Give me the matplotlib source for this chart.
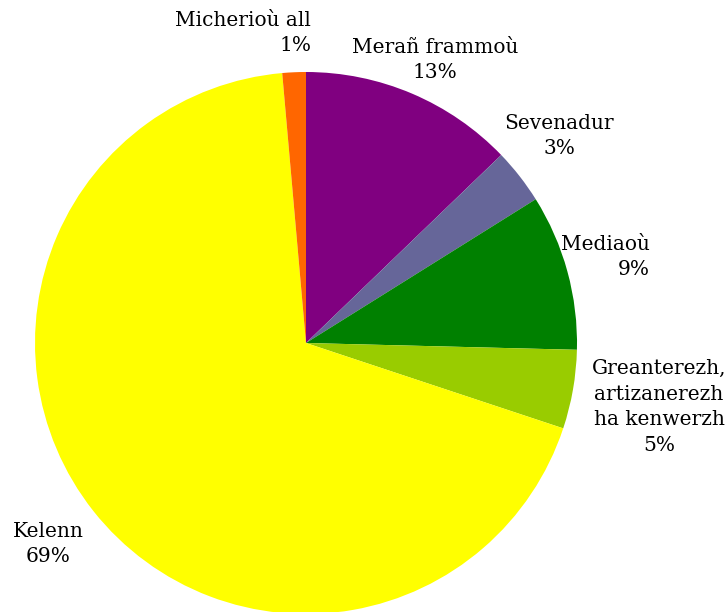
import matplotlib.pyplot as plt

# Sector shares (%), clockwise from 12 o'clock
labels = ['Merañ frammoù', 'Sevenadur', 'Mediaoù',
          'Greanterezh,\nartizanerezh\nha kenwerzh', 'Kelenn', 'Micherioù all']
values = [12.8, 3.3, 9.3, 4.7, 68.5, 1.4]
shown_pct = ['13%', '3%', '9%', '5%', '69%', '1%']
colors = ['#800080', '#666699', '#008000', '#99CC00', '#FFFF00', '#FF6600']

W, H = 728, 612
fig = plt.figure(figsize=(W / 100, H / 100), dpi=100)

cx, cy, r = 306, 343, 271
ax = fig.add_axes([(cx - r) / W, (H - cy - r) / H, 2 * r / W, 2 * r / H])
ax.pie(values, colors=colors, startangle=90, counterclock=False, radius=1,
       wedgeprops=dict(linewidth=0))
ax.set_xlim(-1, 1)
ax.set_ylim(-1, 1)
ax.set_aspect('equal')
ax.axis('off')

# label anchor in pixels (x, y, ha)
label_pos = [(435, 60, 'center'), (559, 136, 'center'), (650, 257, 'right'),
             (659, 407, 'center'), (48, 544, 'center'), (311, 33, 'right')]

for lab, pct, (px, py, ha) in zip(labels, shown_pct, label_pos):
    fig.text(px / W, 1 - py / H, lab + '\n' + pct, ha=ha, va='center',
             multialignment=ha, fontsize=14.5, family='DejaVu Serif',
             linespacing=1.45)

plt.savefig('out.png', dpi=100)
